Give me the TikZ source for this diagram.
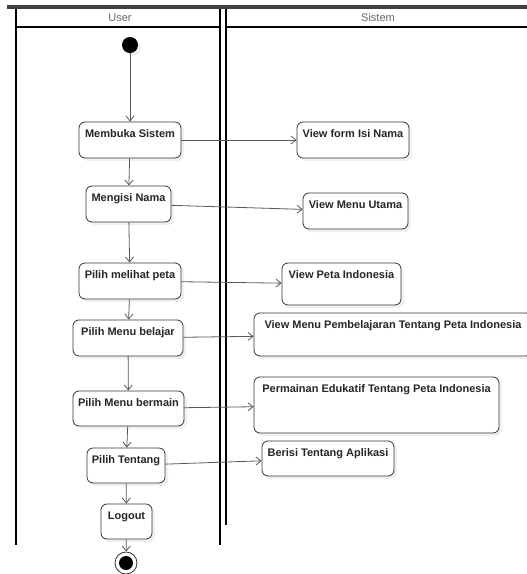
\documentclass[tikz,border=0pt]{standalone}
\usepackage{fontspec}
\setmainfont{Liberation Sans}
\usepackage{xcolor}
\usepackage{tikz}
\usetikzlibrary{arrows.meta,shadows}
\definecolor{barcol}{HTML}{3D4246}

\begin{document}
\begin{tikzpicture}[x=1pt, y=-1pt,
    act/.style={draw=black!80, line width=0.8pt, rounded corners=6pt, fill=white,
      drop shadow={opacity=0.12, shadow xshift=3pt, shadow yshift=-3pt},
      font=\fontsize{11}{13}\selectfont\bfseries, text=black!85, inner xsep=2pt, inner ysep=4pt,
      text height=11pt, text depth=#1},
    act/.default=17pt,
    flow/.style={draw=black!65, line width=0.8pt, -{Straight Barb[length=5pt,width=8pt]}},
    lane/.style={draw=black, line width=1.1pt}]
    \useasboundingbox (0,0) rectangle (527,574);
    % lanes
    \fill[barcol] (7,5) rectangle (527,9);
    \draw[lane] (16,9) -- (16,545);
    \draw[lane] (220,9) -- (220,545);
    \draw[lane] (226,9) -- (226,525);
    \draw[lane] (16,27) -- (220,27);
    \draw[lane] (226,27) -- (527,27);
    \node[font=\fontsize{11}{13}\selectfont, text=black!60] (LU) at (120,18) {User};
    \node[font=\fontsize{11}{13}\selectfont, text=black!60] (LS) at (378,18) {Sistem};
    % user
    \node[circle, fill=black, minimum size=16pt, inner sep=0pt,
      drop shadow={opacity=0.12, shadow xshift=3pt, shadow yshift=-3pt}] (A) at (130,45) {};
    \node[act, minimum width=102pt] (B) at (130,140) {Membuka Sistem};
    \node[act, minimum width=85pt] (C) at (128.5,204) {Mengisi Nama};
    \node[act, minimum width=102pt] (D) at (130,281) {Pilih melihat peta};
    \node[act, minimum width=110pt] (E) at (128,338) {Pilih Menu belajar};
    \node[act=16pt, minimum width=111pt] (F) at (128.5,408.5) {Pilih Menu bermain};
    \node[act=16pt, minimum width=78pt] (G) at (126,465.5) {Pilih Tentang};
    \node[act=16pt, minimum width=51pt] (H) at (126.5,521.5) {Logout};
    \node[circle, draw=black!80, line width=0.8pt, fill=white, minimum size=22pt, inner sep=0pt] (I) at (126,563) {};
    \fill (I) circle (7pt);
    % sistem
    \node[act, minimum width=112pt] (V1) at (353,140) {View form Isi Nama};
    \node[act, minimum width=105pt] (V2) at (355.5,211) {View Menu Utama};
    \node[act=23pt, minimum width=119pt] (V3) at (341.5,284) {View Peta Indonesia};
    \node[act=24pt, minimum width=278pt] (V4) at (393,334.5) {View Menu Pembelajaran Tentang Peta Indonesia};
    \node[act=37pt, minimum width=245pt] (V5) at (376.5,405) {Permainan Edukatif Tentang Peta Indonesia};
    \node[act=16pt, minimum width=132pt] (V6) at (328,458.5) {Berisi Tentang Aplikasi};
    % flow
    \path [flow] (A) edge (B);
    \path [flow] (B) edge (C);
    \path [flow] (C) edge (D);
    \path [flow] (D) edge (E);
    \path [flow] (E) edge (F);
    \path [flow] (F) edge (G);
    \path [flow] (G) edge (H);
    \path [flow] (H) edge (I);
    \path [flow] (B) edge (V1);
    \path [flow] (C) edge (V2);
    \path [flow] (D) edge (V3);
    \path [flow] (E) edge (V4);
    \path [flow] (F) edge (V5);
    \path [flow] (G) edge (V6);
\end{tikzpicture}
\end{document}
